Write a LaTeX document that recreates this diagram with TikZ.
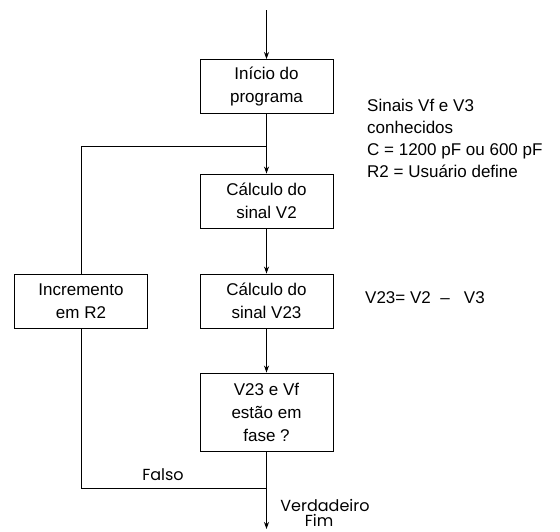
\documentclass[tikz,border=0pt]{standalone}
\usepackage{fontspec}
\setmainfont{Liberation Sans}
\newfontfamily\geofont{Poppins}
\usetikzlibrary{arrows.meta}
\begin{document}
\begin{tikzpicture}[x=1pt,y=-1pt,
  every node/.style={font=\fontsize{17}{23}\selectfont},
  stepbox/.style={draw,line width=0.9pt,minimum width=133pt,minimum height=54pt,align=center,inner sep=2pt,
    execute at begin node={\rule{0pt}{20pt}}},
  conn/.style={line width=0.9pt},
  arr/.style={conn,-{Stealth[length=7pt,width=5pt]}},
  note/.style={align=left,inner sep=0pt,font=\fontsize{17}{22}\selectfont},
  geo/.style={inner sep=0pt,anchor=base,font=\geofont\fontsize{16}{15}\selectfont}]
\useasboundingbox (0,0) rectangle (560,531);
\coordinate (top) at (266.5,10);
\node[stepbox] (b1) at (266.5,86.5) {Início do\\programa};
\node[stepbox] (b2) at (266.5,201) {Cálculo do\\sinal V2};
\node[stepbox] (b3) at (266.5,301) {Cálculo do\\sinal V23};
\node[stepbox,minimum height=78pt] (b4) at (266.5,412) {V23 e Vf\\estão em\\fase ?};
\node[stepbox] (inc) at (81,301) {Incremento\\em R2};
\coordinate (j1) at (266.5,146);
\coordinate (l1) at (81,146);
\coordinate (j2) at (266.5,488);
\coordinate (l2) at (81,488);
\coordinate (end) at (266.5,529);
\draw[arr] (top) -- (b1.north);
\draw[conn] (b1.south) -- (j1);
\draw[arr] (j1) -- (b2.north);
\draw[arr] (b2.south) -- (b3.north);
\draw[arr] (b3.south) -- (b4.north);
\draw[conn] (b4.south) -- (j2);
\draw[arr] (j2) -- (end);
\draw[conn] (j2) -- (l2) -- (inc.south);
\draw[conn] (inc.north) -- (l1) -- (j1);
\node[note,anchor=north west] (n1) at (367,99) {Sinais Vf e V3\\conhecidos\\C = 1200 pF ou 600 pF\\R2 = Usuário define};
\node[note,anchor=base west] (n2) at (365,303) {V23= V2 ~–~~ V3};
\node[geo] (falso) at (163,480) {Falso};
\node[geo] (verd) at (325,511) {Verdadeiro};
\node[geo] (fim) at (319,526.5) {Fim};
\end{tikzpicture}
\end{document}
